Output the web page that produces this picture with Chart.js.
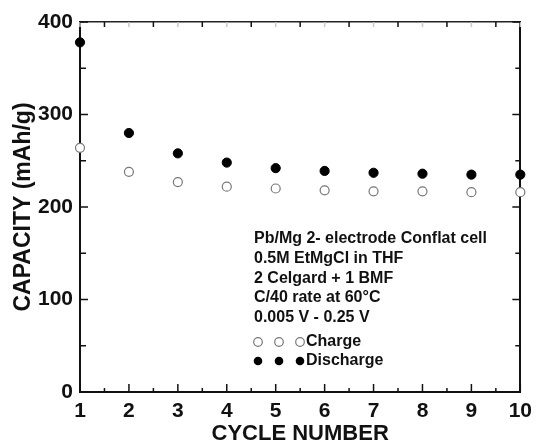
<!DOCTYPE html>
<html>
<head>
<meta charset="utf-8">
<script src="https://cdn.jsdelivr.net/npm/chart.js@4.4.0/dist/chart.umd.min.js"></script>
<style>
  body { margin: 0; background: #fff; }
  canvas { display: block; }
</style>
</head>
<body>
<canvas id="capacityChart" width="539" height="443"></canvas>
<script>
// data
const cycles = [1, 2, 3, 4, 5, 6, 7, 8, 9, 10];
const chargeCap = [264, 238, 227, 222, 220, 218, 217, 217, 216, 216];
const dischargeCap = [378, 280, 258, 248, 242, 239, 237, 236, 235, 235];
const yTicks = [0, 100, 200, 300, 400];

const noteLines = [
  "Pb/Mg 2- electrode Conflat cell",
  "0.5M EtMgCl in THF",
  "2 Celgard + 1 BMF",
  "C/40 rate at 60\u00B0C",
  "0.005 V - 0.25 V"
];
const legendItems = ["Charge", "Discharge"];

const FONT = "'Liberation Sans', Arial, sans-serif";

// inward tick marks on all four sides
const frameTicks = {
  id: 'frameTicks',
  beforeDatasetsDraw(chart) {
    const ctx = chart.ctx;
    const a = chart.chartArea;
    const sx = chart.scales.x, sy = chart.scales.y;
    ctx.save();
    ctx.lineWidth = 1.5;
    for (let v = 1; v <= 10; v += 0.5) {
      const px = sx.getPixelForValue(v);
      const major = v % 1 === 0;
      ctx.strokeStyle = '#111';
      ctx.beginPath();
      ctx.moveTo(px, a.bottom);
      ctx.lineTo(px, a.bottom - (major ? 8 : 4));
      ctx.stroke();
      ctx.strokeStyle = major ? '#c8c8c8' : '#111';
      ctx.beginPath();
      ctx.moveTo(px, a.top);
      ctx.lineTo(px, a.top + 5);
      ctx.stroke();
    }
    ctx.strokeStyle = '#111';
    for (let v = 0; v <= 400; v += 50) {
      const py = sy.getPixelForValue(v);
      const major = v % 100 === 0;
      ctx.beginPath();
      ctx.moveTo(a.left, py);
      ctx.lineTo(a.left + (major ? 8 : 6), py);
      ctx.moveTo(a.right, py);
      ctx.lineTo(a.right - (major ? 8 : 5), py);
      ctx.stroke();
    }
    ctx.restore();
  }
};

// text block with the symbol key
const noteBlock = {
  id: 'noteBlock',
  afterDraw(chart) {
    const ctx = chart.ctx;
    ctx.save();
    ctx.fillStyle = '#111';
    ctx.font = 'bold 16px ' + FONT;
    ctx.textBaseline = 'middle';
    ctx.textAlign = 'left';
    noteLines.forEach((t, i) => ctx.fillText(t, 254, 239 + i * 19.6));

    const rows = [342, 361];
    const xs = [258, 279, 300];
    rows.forEach((ry, i) => {
      xs.forEach(cx => {
        ctx.beginPath();
        ctx.arc(cx, ry, 4.3, 0, Math.PI * 2);
        if (i === 0) {
          ctx.fillStyle = '#fff';
          ctx.fill();
          ctx.strokeStyle = '#777';
          ctx.lineWidth = 1.2;
          ctx.stroke();
        } else {
          ctx.fillStyle = '#000';
          ctx.fill();
        }
      });
      ctx.fillStyle = '#111';
      ctx.fillText(legendItems[i], 306, ry);
    });
    ctx.restore();
  }
};

const ctxEl = document.getElementById('capacityChart');

new Chart(ctxEl, {
  type: 'scatter',
  data: {
    datasets: [
      {
        label: legendItems[0],
        data: cycles.map((c, i) => ({ x: c, y: chargeCap[i] })),
        pointRadius: 4.5,
        pointBackgroundColor: '#fff',
        pointBorderColor: '#777',
        pointBorderWidth: 1.2,
        clip: false
      },
      {
        label: legendItems[1],
        data: cycles.map((c, i) => ({ x: c, y: dischargeCap[i] })),
        pointRadius: 4.6,
        pointBackgroundColor: '#000',
        pointBorderColor: '#000',
        pointBorderWidth: 1,
        clip: false
      }
    ]
  },
  options: {
    responsive: false,
    animation: false,
    layout: { padding: { top: 22, right: 13, bottom: 0, left: 0 } },
    plugins: {
      legend: { display: false },
      tooltip: { enabled: false }
    },
    scales: {
      x: {
        type: 'linear',
        position: 'bottom',
        min: 1,
        max: 10,
        grid: { display: false, drawTicks: false },
        border: { display: true, color: '#111', width: 2 },
        ticks: {
          stepSize: 1,
          padding: 7,
          color: '#111',
          font: { family: FONT, size: 21, weight: 'bold' }
        },
        title: {
          display: true,
          text: 'CYCLE NUMBER',
          color: '#111',
          font: { family: FONT, size: 22, weight: 'bold', lineHeight: 0.8 },
          padding: { top: 0, bottom: 0 }
        },
        afterFit(s) { s.height = 51; }
      },
      x2: {
        type: 'linear',
        position: 'top',
        min: 1,
        max: 10,
        grid: { display: false, drawTicks: false },
        border: { display: true, color: '#222', width: 1.6 },
        ticks: { display: false },
        afterFit(s) { s.height = 0; }
      },
      y: {
        type: 'linear',
        position: 'left',
        min: 0,
        max: 400,
        grid: { display: false, drawTicks: false },
        border: { display: true, color: '#111', width: 2 },
        afterBuildTicks(s) { s.ticks = yTicks.map(v => ({ value: v })); },
        ticks: {
          padding: 7,
          color: '#111',
          font: { family: FONT, size: 21, weight: 'bold' }
        },
        title: {
          display: true,
          text: 'CAPACITY (mAh/g)',
          color: '#111',
          font: { family: FONT, size: 23, weight: 'bold', lineHeight: 1 },
          padding: { top: 12, bottom: 0 }
        },
        afterFit(s) { s.width = 80; }
      },
      y2: {
        type: 'linear',
        position: 'right',
        min: 0,
        max: 400,
        grid: { display: false, drawTicks: false },
        border: { display: true, color: '#111', width: 2 },
        ticks: { display: false },
        afterFit(s) { s.width = 0; }
      }
    }
  },
  plugins: [frameTicks, noteBlock]
});
</script>
</body>
</html>
